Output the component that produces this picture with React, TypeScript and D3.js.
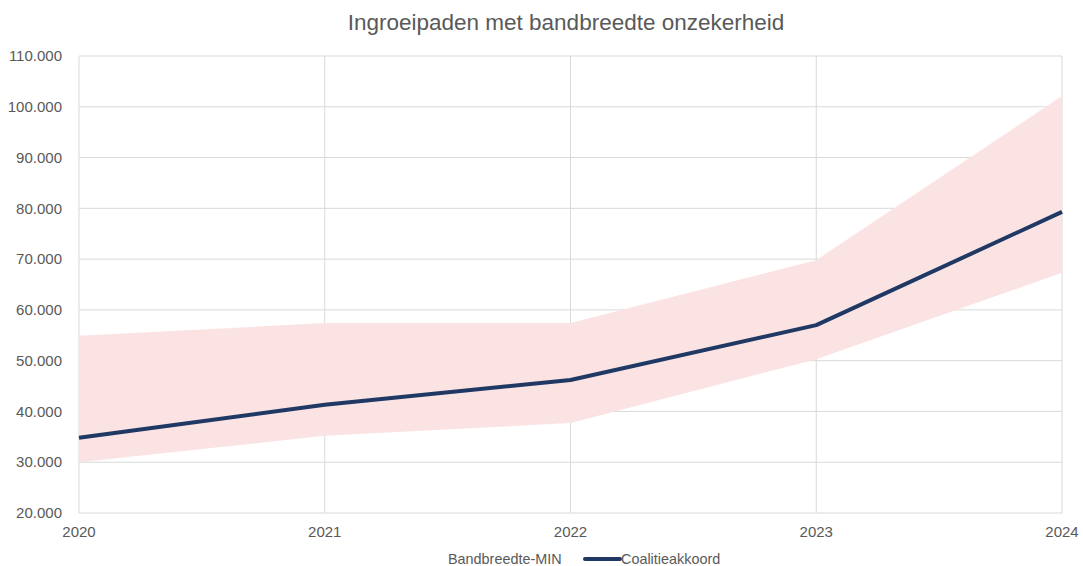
import React, { useEffect, useRef } from "react";
import * as d3 from "d3";

const years = [2020, 2021, 2022, 2023, 2024];
const bandMin = [30000, 35200, 37700, 50300, 67300];
const bandMax = [54900, 57400, 57400, 69800, 102100];
const coalitie = [34800, 41300, 46200, 57000, 79300];
const yTicks = [20000, 30000, 40000, 50000, 60000, 70000, 80000, 90000, 100000, 110000];

const App = () => {
  const svgRef = useRef<SVGSVGElement>(null);

  useEffect(() => {
    const W = 1083;
    const H = 566;
    const margin = { top: 56, right: 21, bottom: 53, left: 79 };
    const width = W - margin.left - margin.right;
    const height = H - margin.top - margin.bottom;
    const font = "'Liberation Sans', Arial, sans-serif";
    const grey = "#595959";

    const root = d3.select(svgRef.current);
    root.selectAll("*").remove();
    root.attr("width", W).attr("height", H)
      .style("display", "block")
      .style("position", "absolute")
      .style("left", "0px")
      .style("top", "0px")
      .style("font-family", font);

    root.append("rect").attr("width", W).attr("height", H).attr("fill", "#fff");

    const svg = root.append("g").attr("transform", `translate(${margin.left},${margin.top})`);

    const x = d3.scaleLinear().domain([2020, 2024]).range([0, width]);
    const y = d3.scaleLinear().domain([20000, 110000]).range([height, 0]);
    const fmt = d3.formatLocale({ decimal: ",", thousands: ".", grouping: [3], currency: ["", ""] }).format(",.0f");

    // gridlines
    svg.selectAll(".hgrid")
      .data(yTicks)
      .enter()
      .append("line")
      .attr("x1", 0)
      .attr("x2", width)
      .attr("y1", (d) => y(d))
      .attr("y2", (d) => y(d))
      .attr("stroke", "#d9d9d9")
      .attr("stroke-width", 1);

    svg.selectAll(".vgrid")
      .data(years)
      .enter()
      .append("line")
      .attr("x1", (d) => x(d))
      .attr("x2", (d) => x(d))
      .attr("y1", 0)
      .attr("y2", height)
      .attr("stroke", "#d9d9d9")
      .attr("stroke-width", 1);

    const bandData = years.map((yr, i) => ({ yr, lo: bandMin[i], hi: bandMax[i] }));
    const area = d3.area<{ yr: number; lo: number; hi: number }>()
      .x((d) => x(d.yr))
      .y0((d) => y(d.lo))
      .y1((d) => y(d.hi));

    svg.append("path").datum(bandData).attr("d", area).attr("fill", "#fbe3e4");

    const line = d3.line<number>()
      .x((_, i) => x(years[i]))
      .y((d) => y(d));

    svg.append("path")
      .datum(coalitie)
      .attr("d", line)
      .attr("fill", "none")
      .attr("stroke", "#1f3864")
      .attr("stroke-width", 4)
      .attr("stroke-linejoin", "round");

    // y axis labels
    svg.selectAll(".ylab")
      .data(yTicks)
      .enter()
      .append("text")
      .attr("x", -17)
      .attr("y", (d) => y(d))
      .attr("dy", "0.35em")
      .attr("text-anchor", "end")
      .attr("font-size", 15)
      .attr("fill", grey)
      .text((d) => fmt(d));

    svg.selectAll(".xlab")
      .data(years)
      .enter()
      .append("text")
      .attr("x", (d) => x(d))
      .attr("y", height + 24)
      .attr("text-anchor", "middle")
      .attr("font-size", 15)
      .attr("fill", grey)
      .text((d) => d);

    // title
    root.append("text")
      .attr("x", 566)
      .attr("y", 30)
      .attr("text-anchor", "middle")
      .attr("font-size", 22.5)
      .attr("fill", grey)
      .text("Ingroeipaden met bandbreedte onzekerheid");

    // legend
    const lg = root.append("g").attr("transform", "translate(0,564)");
    lg.append("text")
      .attr("x", 448)
      .attr("y", 0)
      .attr("font-size", 14.4)
      .attr("fill", grey)
      .text("Bandbreedte-MIN");
    lg.append("line")
      .attr("x1", 585)
      .attr("x2", 620)
      .attr("y1", -5)
      .attr("y2", -5)
      .attr("stroke", "#1f3864")
      .attr("stroke-width", 4)
      .attr("stroke-linecap", "round");
    lg.append("text")
      .attr("x", 621)
      .attr("y", 0)
      .attr("font-size", 14.4)
      .attr("fill", grey)
      .text("Coalitieakkoord");
  }, []);

  return <svg ref={svgRef}></svg>;
};

export default App;
